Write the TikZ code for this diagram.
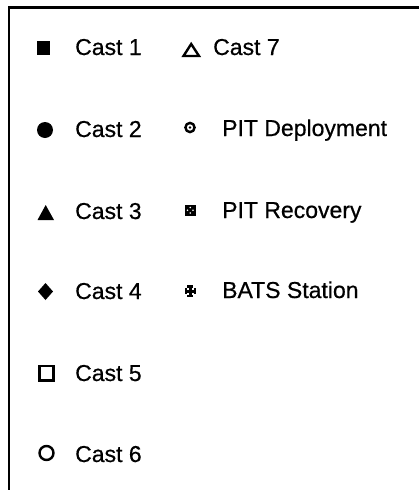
\documentclass[tikz,border=0pt]{standalone}
\usepackage{fontspec}
\setmainfont{Liberation Sans}[FakeBold=0.6]
\usetikzlibrary{shapes.geometric}
\begin{document}
\begin{tikzpicture}[x=1pt,y=-1pt,
  lbl/.style={anchor=base west,inner sep=0pt,font=\fontsize{23}{24}\selectfont},
  mk/.style={fill=black,draw=none},
  omk/.style={draw=black,line width=2.6pt,fill=none}]
\useasboundingbox (0,0) rectangle (419,490);
% frame
\draw[line width=2.4pt] (9,490) -- (9,7.5) -- (419,7.5);
% left column markers
\fill (37,41) rectangle (50,55);
\fill (45,130) circle (8);
\fill (37.5,220) -- (54,220) -- (45.7,205) -- cycle;
\fill (45.5,283) -- (53,291.5) -- (45.5,300) -- (38,291.5) -- cycle;
\draw[line width=2.6pt] (39.5,366) rectangle (53.5,380.5);
\draw[line width=2.4pt] (46.5,453) circle (7);
% right column markers
\draw[line width=2.4pt,line join=miter] (183.5,56) -- (199,56) -- (191.2,44) -- cycle;
\draw[line width=2.4pt] (190,127.5) circle (4.6);
\fill (190,127.5) circle (1.4);
\fill (185,205) rectangle (195.5,215.5);
\fill[white] (190.2,207.5) circle (0.9);
\fill[white] (187.5,210.2) circle (0.9);
\fill[white] (193,210.2) circle (0.9);
\fill[white] (190.2,213) circle (0.9);
% BATS cross
\fill (188.7,286) rectangle (191.8,296);
\fill (185,289.5) rectangle (195.5,292.6);
\fill (187.2,285) rectangle (193.3,287.6);
\fill (187.2,294.5) rectangle (193.3,297);
\fill (184.5,288) rectangle (186.8,294.2);
\fill (193.7,288) rectangle (196.2,294.2);
% labels
\node[lbl] (c1) at (75,55) {Cast 1};
\node[lbl] (c2) at (75,137) {Cast 2};
\node[lbl] (c3) at (75,219) {Cast 3};
\node[lbl] (c4) at (75,299) {Cast 4};
\node[lbl] (c5) at (75,381) {Cast 5};
\node[lbl] (c6) at (75,462) {Cast 6};
\node[lbl] (c7) at (213,55) {Cast 7};
\node[lbl] (pd) at (222,136) {PIT Deployment};
\node[lbl] (pr) at (222,218) {PIT Recovery};
\node[lbl] (bs) at (222,298) {BATS Station};
\end{tikzpicture}
\end{document}
